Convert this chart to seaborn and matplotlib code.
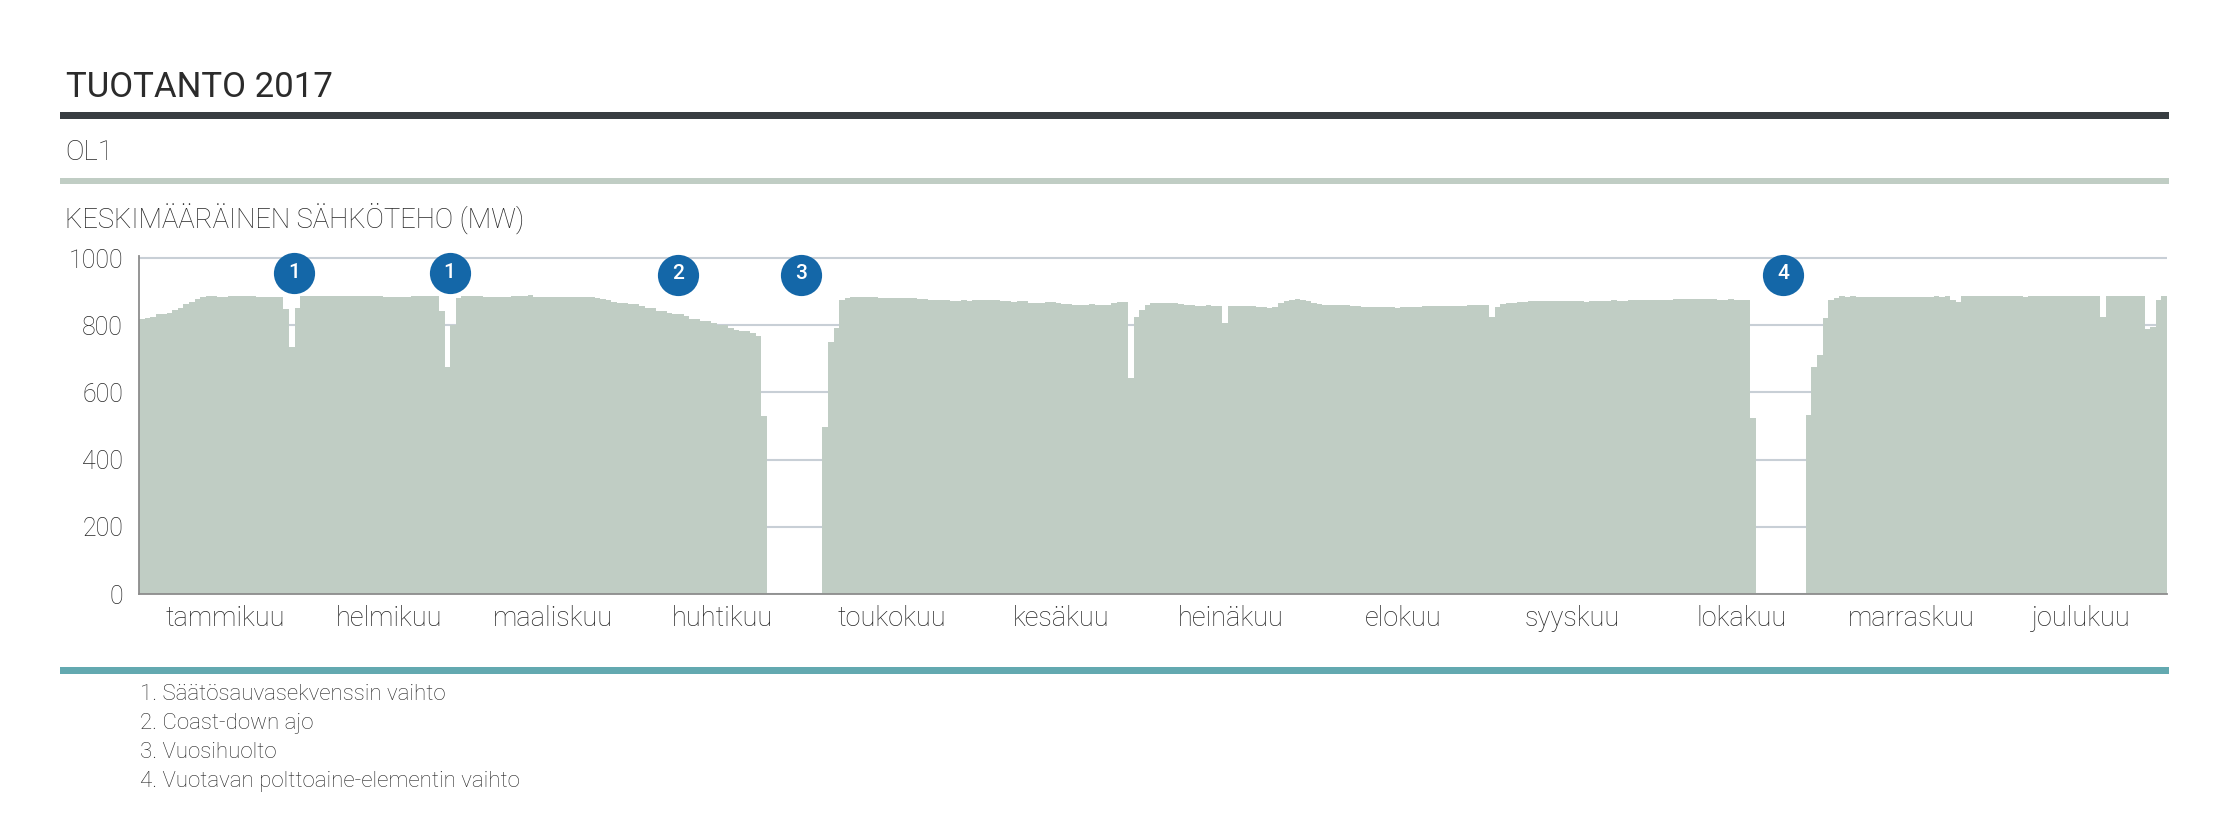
import matplotlib
matplotlib.use("Agg")
import matplotlib.pyplot as plt
from matplotlib.patches import Rectangle
import seaborn as sns
import numpy as np
import pandas as pd

# daily average electrical output (MW), one list per month
jan = [818, 821, 825, 832, 832, 837, 846, 852, 862, 868, 877, 883, 887, 887, 885, 885,
       888, 888, 887, 888, 888, 885, 885, 885, 885, 885, 849, 735, 852, 888, 888]
feb = [888, 888, 888, 888, 888, 888, 888, 888, 888, 888, 888, 888, 888, 885, 885, 885,
       885, 885, 888, 888, 888, 888, 888, 842, 675, 800, 882, 888]
mar = [888, 888, 888, 885, 885, 885, 885, 885, 888, 888, 888, 889, 885, 885, 885, 885,
       885, 885, 885, 885, 885, 885, 885, 882, 878, 874, 870, 865, 865, 862, 862]
apr = [857, 852, 852, 842, 842, 837, 832, 832, 827, 817, 817, 812, 812, 807, 802, 802,
       792, 787, 782, 782, 777, 769, 530, 0, 0, 0, 0, 0, 0, 0]
may = [0, 0, 0, 497, 750, 792, 875, 882, 885, 885, 885, 885, 885, 882, 882, 882,
       882, 882, 882, 882, 877, 877, 875, 875, 875, 875, 872, 872, 875, 872, 875]
jun = [875, 875, 875, 875, 872, 872, 870, 872, 872, 867, 866, 866, 869, 869, 865, 863,
       863, 860, 860, 860, 863, 860, 860, 860, 865, 869, 869, 642, 824, 845]
jul = [860, 866, 866, 866, 866, 866, 863, 860, 860, 857, 857, 860, 857, 857, 807, 857,
       857, 857, 857, 857, 854, 854, 851, 854, 865, 872, 875, 878, 875, 872, 866]
aug = [863, 860, 860, 860, 860, 860, 857, 857, 854, 854, 854, 854, 854, 854, 851, 854,
       854, 854, 854, 857, 857, 857, 857, 857, 857, 857, 857, 860, 860, 860, 860]
sep = [824, 854, 862, 866, 866, 869, 869, 872, 872, 872, 872, 872, 872, 872, 872, 872,
       872, 869, 872, 872, 872, 872, 875, 872, 872, 875, 874, 874, 874, 874]
oct_ = [874, 874, 874, 877, 877, 877, 877, 877, 877, 877, 877, 875, 875, 877, 874, 874,
        874, 524, 0, 0, 0, 0, 0, 0, 0, 0, 0, 532, 677, 710, 822]
nov = [874, 882, 887, 885, 887, 885, 885, 885, 885, 885, 885, 885, 885, 885, 885, 885,
       885, 885, 885, 887, 885, 887, 875, 870, 888, 888, 888, 888, 888, 888]
dec = [888, 888, 888, 888, 888, 885, 888, 888, 888, 888, 888, 888, 888, 888, 888, 888,
       888, 888, 888, 824, 888, 888, 888, 888, 888, 888, 888, 790, 795, 875, 888]

months = ["tammikuu", "helmikuu", "maaliskuu", "huhtikuu", "toukokuu", "kesäkuu",
          "heinäkuu", "elokuu", "syyskuu", "lokakuu", "marraskuu", "joulukuu"]

# numbered event markers (day of year, label)
event_days = [27.4, 55.4, 96.5, 118.6, 295.4]
event_labels = ["1", "1", "2", "3", "4"]
event_y = [954, 954, 949, 949, 949]

notes = ["1. Säätösauvasekvenssin vaihto",
         "2. Coast-down ajo",
         "3. Vuosihuolto",
         "4. Vuotavan polttoaine-elementin vaihto"]

W, H = 2232, 824
BAR = "#c0cdc4"
TXT = "#262626"
FONT = ["Roboto", "DejaVu Sans"]


def fx(px):
    return px / W


def fy(py):
    return 1 - py / H


month_data = [jan, feb, mar, apr, may, jun, jul, aug, sep, oct_, nov, dec]
values = np.concatenate(month_data)
df = pd.DataFrame({"day": np.arange(len(values)), "mw": values})
lengths = [len(m) for m in month_data]
bounds = np.concatenate([[0], np.cumsum(lengths)]) - 0.5
mids = (bounds[:-1] + bounds[1:]) / 2

sns.set_style("white")
plt.rcParams["font.family"] = FONT

fig = plt.figure(figsize=(W / 100, H / 100), dpi=100)
ytop = 1005
ax = fig.add_axes([fx(139), fy(594), fx(2167) - fx(139), 336 * ytop / 1000 / H])

sns.barplot(data=df, x="day", y="mw", native_scale=True, orient="x", width=1,
            color=BAR, saturation=1, linewidth=0, ax=ax)
for p in ax.patches:
    p.set_antialiased(False)

ax.set_xlim(bounds[0], bounds[-1])
ax.set_ylim(0, ytop)
ax.set_axisbelow(True)
ax.yaxis.grid(True, color="#c8cfd6", lw=1.5)
ax.xaxis.grid(False)
for s in ["top", "right"]:
    ax.spines[s].set_visible(False)
for s in ["left", "bottom"]:
    ax.spines[s].set_color("#8c8c8c")
    ax.spines[s].set_linewidth(1.3)

ax.set_yticks([0, 200, 400, 600, 800, 1000])
ax.set_yticklabels(["0", "200", "400", "600", "800", "1000"])
ax.tick_params(axis="y", length=4.5, width=1, color="#8c8c8c", pad=7,
               labelsize=18, labelcolor=TXT)
ax.set_xticks(bounds)
ax.set_xticklabels([])
ax.set_xticks(mids, minor=True)
ax.set_xticklabels(months, minor=True)
ax.tick_params(axis="x", which="major", length=7, width=1, color="#8c8c8c")
ax.tick_params(axis="x", which="minor", length=0, pad=8, labelsize=19.5, labelcolor=TXT)
for lab in ax.get_xticklabels(minor=True) + ax.get_yticklabels():
    lab.set_fontweight("light")
ax.set_xlabel("")
ax.set_ylabel("")

# event markers
ax.scatter(event_days, event_y, s=880, color="#1467a8", zorder=5, clip_on=False,
           linewidths=0)
for xd, yd, lab in zip(event_days, event_y, event_labels):
    ax.text(xd, yd + 4, lab, color="white", fontsize=15, fontweight="medium",
            ha="center", va="center", zorder=6)

# header and rules
fig.text(fx(66), fy(97), "TUOTANTO 2017", fontsize=25, color="#2b2b2b",
         ha="left", va="baseline")
fig.add_artist(Rectangle((fx(60), fy(119)), fx(2169) - fx(60), 7 / H,
                         transform=fig.transFigure, color="#383d41", lw=0))
fig.text(fx(65), fy(160), "OL1", fontsize=20, color=TXT, fontweight="light",
         ha="left", va="baseline")
fig.add_artist(Rectangle((fx(60), fy(184)), fx(2169) - fx(60), 6 / H,
                         transform=fig.transFigure, color=BAR, lw=0))
fig.text(fx(65), fy(228), "KESKIMÄÄRÄINEN SÄHKÖTEHO (MW)", fontsize=19.7, color=TXT,
         fontweight="light", ha="left", va="baseline")
fig.add_artist(Rectangle((fx(60), fy(674)), fx(2169) - fx(60), 7 / H,
                         transform=fig.transFigure, color="#63a9b0", lw=0))

for i, note in enumerate(notes):
    fig.text(fx(140), fy([695, 723, 753, 782][i]), note, fontsize=16, color=TXT,
             fontweight="light", ha="left", va="center")

fig.savefig("out.png", dpi=100)
